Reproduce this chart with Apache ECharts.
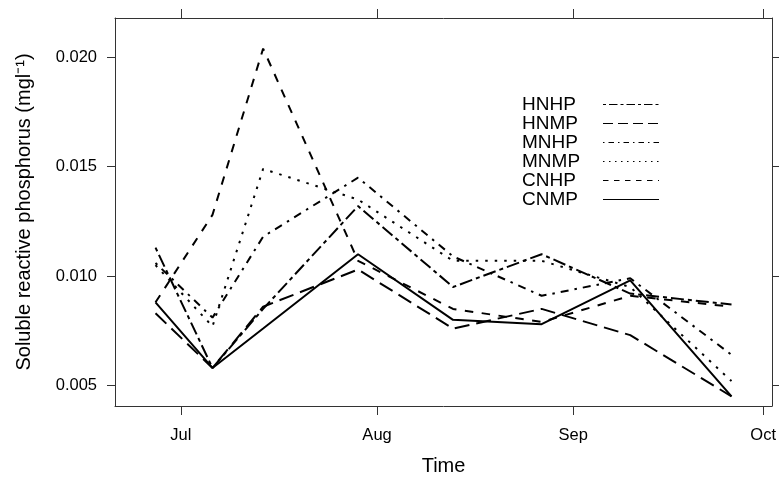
<!DOCTYPE html>
<html>
<head>
<meta charset="utf-8">
<script src="https://cdn.jsdelivr.net/npm/echarts@6/dist/echarts.min.js"></script>
<style>
  html, body { margin: 0; padding: 0; background: #fff; }
  #chart { width: 779px; height: 481px; }
</style>
</head>
<body>
<div id="chart"></div>
<script>
// sampling days, counted from 1 July (Jun 27 ... Sep 26)
var sampleDay = [-4, 5, 13, 28, 43, 57, 71, 87];

var HNHP = [0.0113, 0.0058, 0.0085, 0.0132, 0.0095, 0.0110, 0.0092, 0.0087];
var HNMP = [0.0083, 0.0058, 0.0086, 0.0103, 0.0076, 0.0085, 0.0073, 0.0045];
var MNHP = [0.0106, 0.0081, 0.0118, 0.0145, 0.0109, 0.0091, 0.0099, 0.0064];
var MNMP = [0.0105, 0.0077, 0.0149, 0.0135, 0.0107, 0.0107, 0.0095, 0.0052];
var CNHP = [0.0088, 0.0128, 0.0204, 0.0107, 0.0085, 0.0079, 0.0091, 0.0086];
var CNMP = [0.0088, 0.0058, 0.0076, 0.0110, 0.0080, 0.0078, 0.0098, 0.0045];

var seriesNames = ['HNHP', 'HNMP', 'MNHP', 'MNMP', 'CNHP', 'CNMP'];

// tick labels
var monthTicks = [0, 31, 62, 92];
var monthLabels = ['Jul', 'Aug', 'Sep', 'Oct'];
var yTicks = [0.005, 0.010, 0.015, 0.020];

var FONT = '"Liberation Sans", Arial, Helvetica, sans-serif';

// R style line types (twodash, longdash, dotdash, dotted, dashed, solid)
var dashPlot = [[4, 4, 13, 4], [15, 7], [2.5, 6, 8, 6], [2.5, 7], [8.5, 8.5], 'solid'];
var dashKey = [[3, 3, 8.5, 3], [10, 5], [1.5, 4, 5.5, 4], [1.5, 4.5], [5.5, 5.5], 'solid'];

var values = [HNHP, HNMP, MNHP, MNMP, CNHP, CNMP];

var chart = echarts.init(document.getElementById('chart'));

var series = seriesNames.map(function (name, i) {
  return {
    name: name,
    type: 'line',
    symbol: 'none',
    data: values[i].map(function (v, k) { return [sampleDay[k], v]; }),
    lineStyle: { color: '#000', width: 2, type: dashPlot[i], cap: 'butt' },
    itemStyle: { color: '#000' }
  };
});

var xMin = -10.4, xMax = 93.4;
var yMin = 0.00406, yMax = 0.0218;

function xAxisDef(pos, labels) {
  return {
    type: 'value',
    position: pos,
    min: xMin,
    max: xMax,
    name: labels ? 'Time' : '',
    nameLocation: 'middle',
    nameGap: 50,
    nameTextStyle: { fontFamily: FONT, fontSize: 20, color: '#000' },
    splitLine: { show: false },
    axisLine: { show: true, onZero: false, lineStyle: { color: '#333', width: 1 } },
    axisTick: { show: true, inside: false, length: 9, customValues: monthTicks, lineStyle: { color: '#333' } },
    axisLabel: {
      show: labels,
      customValues: monthTicks,
      margin: 21,
      fontFamily: FONT,
      fontSize: 16.5,
      color: '#000',
      formatter: function (v) { return monthLabels[monthTicks.indexOf(v)]; }
    }
  };
}

function yAxisDef(pos, labels) {
  return {
    type: 'value',
    position: pos,
    min: yMin,
    max: yMax,
    name: labels ? 'Soluble reactive phosphorus (mgl\u207B\u00B9)' : '',
    nameLocation: 'middle',
    nameGap: 81,
    nameTextStyle: { fontFamily: FONT, fontSize: 20, color: '#000' },
    splitLine: { show: false },
    axisLine: { show: true, onZero: false, lineStyle: { color: '#333', width: 1 } },
    axisTick: { show: true, inside: false, length: 8, customValues: yTicks, lineStyle: { color: '#333' } },
    axisLabel: {
      show: labels,
      customValues: yTicks,
      margin: 18,
      fontFamily: FONT,
      fontSize: 16.5,
      color: '#000',
      formatter: function (v) { return v.toFixed(3); }
    }
  };
}

var option = {
  animation: false,
  backgroundColor: '#fff',
  grid: { left: 115, right: 5, top: 18, bottom: 73, containLabel: false },
  xAxis: [xAxisDef('bottom', true), xAxisDef('top', false)],
  yAxis: [yAxisDef('left', true), yAxisDef('right', false)],
  legend: {
    orient: 'vertical',
    left: 517,
    top: 90,
    align: 'right',
    itemWidth: 56,
    itemHeight: 10,
    itemGap: 0,
    selectedMode: false,
    formatter: function (name) { return '{t|' + name + '}'; },
    textStyle: {
      fontFamily: FONT, fontSize: 19, lineHeight: 19, color: '#000',
      rich: { t: { width: 76, align: 'left', fontFamily: FONT, fontSize: 19, lineHeight: 19, color: '#000' } }
    },
    data: seriesNames.map(function (name, i) {
      return {
        name: name,
        itemStyle: { opacity: 0, color: 'transparent', borderWidth: 0 },
        lineStyle: { width: 1, type: dashKey[i], color: '#000', opacity: 1 }
      };
    })
  },
  series: series
};

chart.setOption(option);
</script>
</body>
</html>
